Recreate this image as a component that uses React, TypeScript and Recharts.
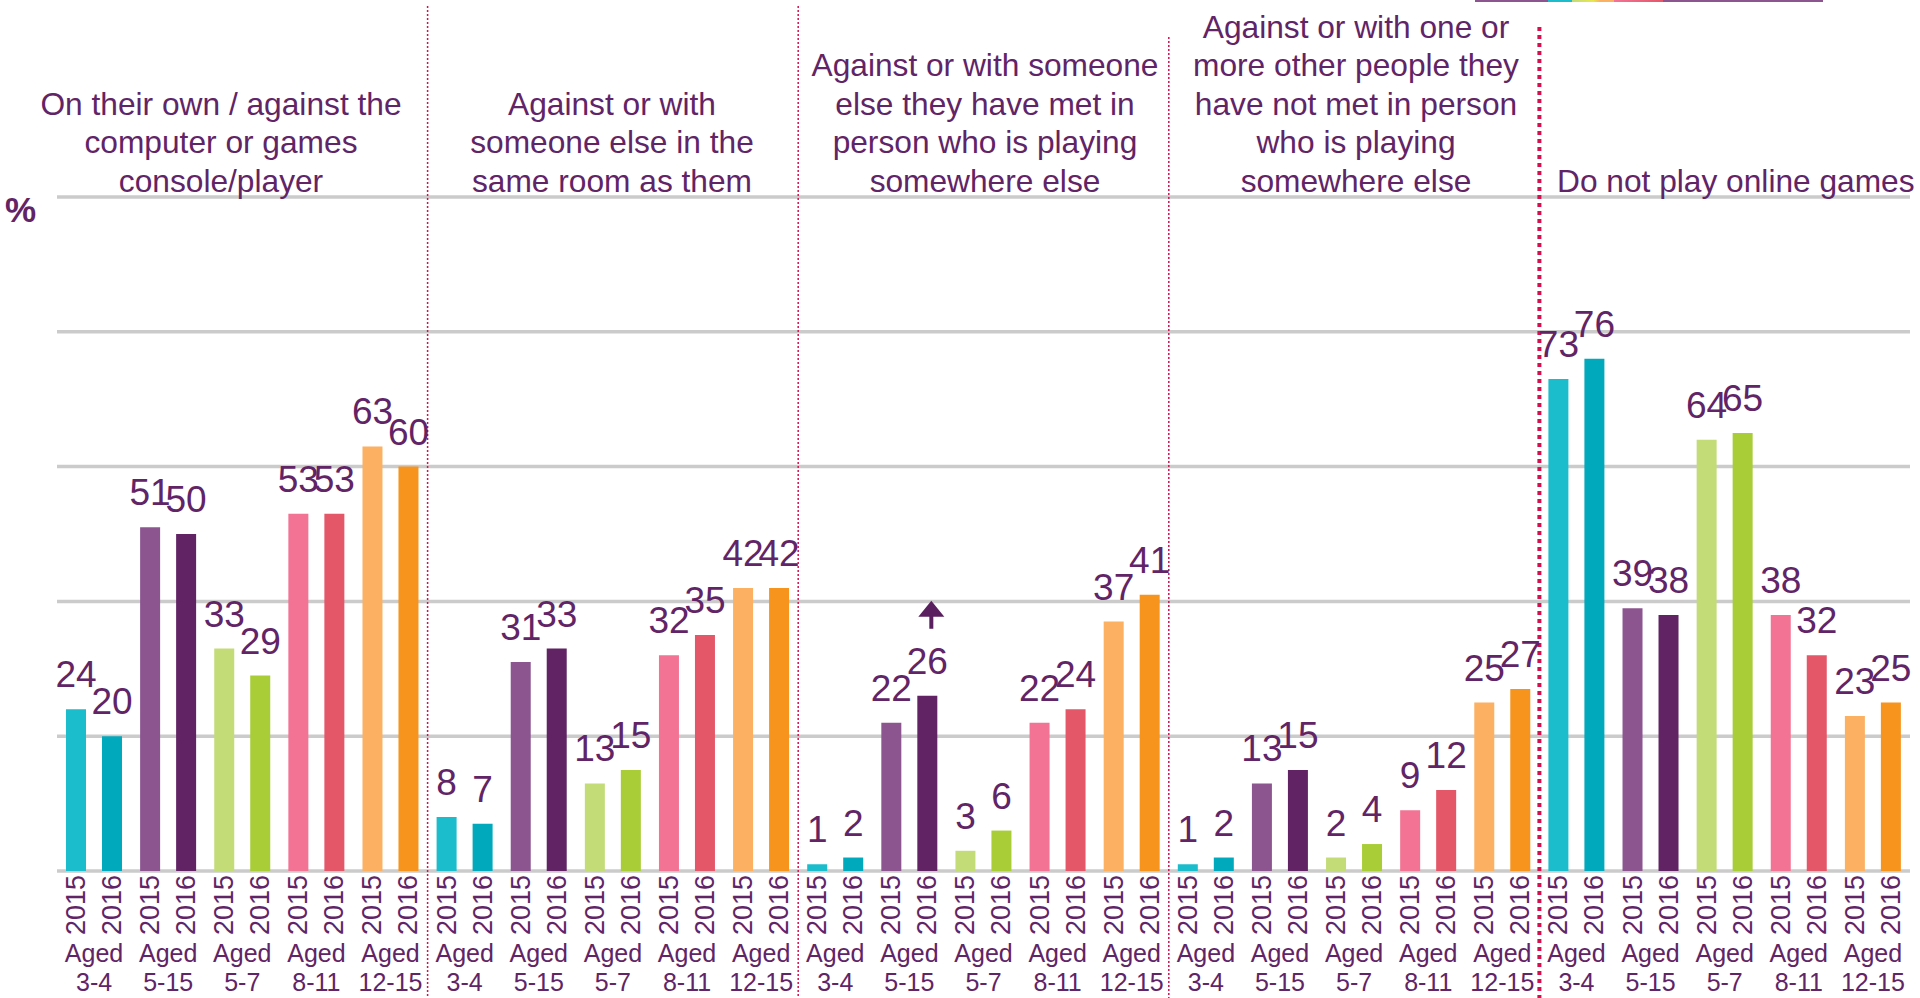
import React from 'react';
import { BarChart, Bar, XAxis, YAxis, CartesianGrid, Cell, LabelList, ReferenceLine } from 'recharts';

const panelTitles = [
  ['On their own / against the', 'computer or games', 'console/player'],
  ['Against or with', 'someone else in the', 'same room as them'],
  ['Against or with someone', 'else they have met in', 'person who is playing', 'somewhere else'],
  ['Against or with one or', 'more other people they', 'have not met in person', 'who is playing', 'somewhere else'],
  ['Do not play online games'],
];
const ageGroups = ['3-4', '5-15', '5-7', '8-11', '12-15'];
const years = ['2015', '2016'];
const values2015 = [24, 51, 33, 53, 63, 8, 31, 13, 32, 42, 1, 22, 3, 22, 37, 1, 13, 2, 9, 25, 73, 39, 64, 38, 23];
const values2016 = [20, 50, 29, 53, 60, 7, 33, 15, 35, 42, 2, 26, 6, 24, 41, 2, 15, 4, 12, 27, 76, 38, 65, 32, 25];
// significant rise 2015 -> 2016
const rise2016 = [11];
const yTicks = [0, 20, 40, 60, 80, 100];

const colors2015 = ['#1bbdcc', '#8c5590', '#c3dc78', '#f27394', '#fbb062'];
const colors2016 = ['#00a9bc', '#612364', '#a8cd37', '#e45769', '#f7941e'];
const textColor = '#612466';
const sepColor = '#d4104e';
const font = '"Liberation Sans", Arial, sans-serif';

const data = values2015.map((v, i) => ({
  key: `p${Math.floor(i / 5)}-${ageGroups[i % 5]}`,
  age: ageGroups[i % 5],
  v2015: v,
  v2016: values2016[i],
}));

// title placement (centre x, or left x for the last one)
const titleBoxes = [
  { cx: 221 },
  { cx: 612 },
  { cx: 985 },
  { cx: 1356 },
  { left: 1557 },
];
const separators = [
  { at: 5, top: 6, thick: false },
  { at: 10, top: 6, thick: false },
  { at: 15, top: 37, thick: false },
  { at: 20, top: 27, thick: true },
];

const YearLabel = (props: any) => {
  const { x, y, width, height, year } = props;
  const cx = x + width / 2;
  const cy = y + height + 34;
  return (
    <text
      x={cx}
      y={cy}
      transform={`rotate(-90 ${cx} ${cy})`}
      textAnchor="middle"
      dominantBaseline="central"
      fill={textColor}
      fontSize={27}
      fontFamily={font}
    >
      {year}
    </text>
  );
};

const RiseArrow = (props: any) => {
  const { x, y, width, index } = props;
  if (!rise2016.includes(index)) return null;
  const cx = x + width / 2 + 4;
  const tip = y - 95;
  return (
    <g fill="#5a1f5e">
      <polygon points={`${cx},${tip} ${cx - 13},${tip + 16} ${cx + 13},${tip + 16}`} />
      <rect x={cx - 2} y={tip + 15} width={4} height={13} />
    </g>
  );
};

const AgeTick = (props: any) => {
  const { x, y, payload } = props;
  const age = ageGroups[payload.index % 5];
  return (
    <g fill={textColor} fontFamily={font} fontSize={25}>
      <text x={x} y={y + 82} textAnchor="middle" dominantBaseline="central">
        Aged
      </text>
      <text x={x} y={y + 111} textAnchor="middle" dominantBaseline="central">
        {age}
      </text>
    </g>
  );
};

const Separator = (props: any) => {
  const { x1, thick, top } = props;
  return (
    <line
      x1={x1}
      x2={x1}
      y1={top}
      y2={998}
      stroke={sepColor}
      strokeWidth={thick ? 4 : 1.5}
      strokeDasharray={thick ? '4 4' : '2 2'}
    />
  );
};

const App: React.FC = () => {
  return (
    <div
      style={{
        position: 'absolute',
        left: 0,
        top: 0,
        width: 1920,
        height: 998,
        overflow: 'hidden',
        background: '#fff',
        fontFamily: font,
      }}
    >
      <BarChart
        width={1920}
        height={998}
        data={data}
        margin={{ top: 197, right: 10, left: 57, bottom: 0 }}
        barGap={16}
      >
        <CartesianGrid vertical={false} stroke="#cbcbcb" strokeWidth={3.5} />
        <YAxis hide domain={[0, 100]} ticks={yTicks} />
        <XAxis
          dataKey="key"
          interval={0}
          height={127}
          axisLine={false}
          tickLine={false}
          tickSize={0}
          tickMargin={0}
          tick={<AgeTick />}
        />
        <Bar dataKey="v2015" barSize={20} isAnimationActive={false}>
          {data.map((d, i) => (
            <Cell key={`a${i}`} fill={colors2015[i % 5]} />
          ))}
          <LabelList dataKey="v2015" position="top" offset={22} fill={textColor} fontSize={37} fontFamily={font} />
          <LabelList dataKey="v2015" content={(p: any) => <YearLabel {...p} year={years[0]} />} />
        </Bar>
        <Bar dataKey="v2016" barSize={20} isAnimationActive={false}>
          {data.map((d, i) => (
            <Cell key={`b${i}`} fill={colors2016[i % 5]} />
          ))}
          <LabelList dataKey="v2016" position="top" offset={22} fill={textColor} fontSize={37} fontFamily={font} />
          <LabelList dataKey="v2016" content={(p: any) => <YearLabel {...p} year={years[1]} />} />
          <LabelList dataKey="v2016" content={(p: any) => <RiseArrow {...p} />} />
        </Bar>
        {separators.map((s) => (
          <ReferenceLine
            key={s.at}
            x={data[s.at].key}
            position="start"
            ifOverflow="visible"
            shape={(p: any) => <Separator {...p} top={s.top} thick={s.thick} />}
          />
        ))}
      </BarChart>

      {/* cut-off legend strip at the top */}
      <div
        style={{
          position: 'absolute',
          left: 1475,
          top: 0,
          width: 348,
          height: 2,
          background:
            'linear-gradient(to right, #8c5590 0%, #8c5590 21%, #1bbdcc 21%, #1bbdcc 28%, #c3dc78 28%, #e8e84a 34%, #fbb062 36%, #fbb062 40%, #f27394 40%, #e45769 54%, #8c5590 54%, #8c5590 100%)',
        }}
      />

      <div
        style={{
          position: 'absolute',
          left: 5,
          top: 190,
          fontSize: 35,
          fontWeight: 'bold',
          color: textColor,
          lineHeight: '40px',
        }}
      >
        %
      </div>

      {panelTitles.map((lines, i) => {
        const box = titleBoxes[i];
        const lh = 38.5;
        const top = 181 - lh / 2 - (lines.length - 1) * lh;
        const style: React.CSSProperties = {
          position: 'absolute',
          top,
          fontSize: 31.7,
          lineHeight: `${lh}px`,
          color: textColor,
          whiteSpace: 'nowrap',
        };
        if (box.cx !== undefined) {
          style.left = box.cx - 200;
          style.width = 400;
          style.textAlign = 'center';
        } else {
          style.left = box.left;
        }
        return (
          <div key={i} style={style}>
            {lines.map((l, j) => (
              <div key={j}>{l}</div>
            ))}
          </div>
        );
      })}
    </div>
  );
};

export default App;
